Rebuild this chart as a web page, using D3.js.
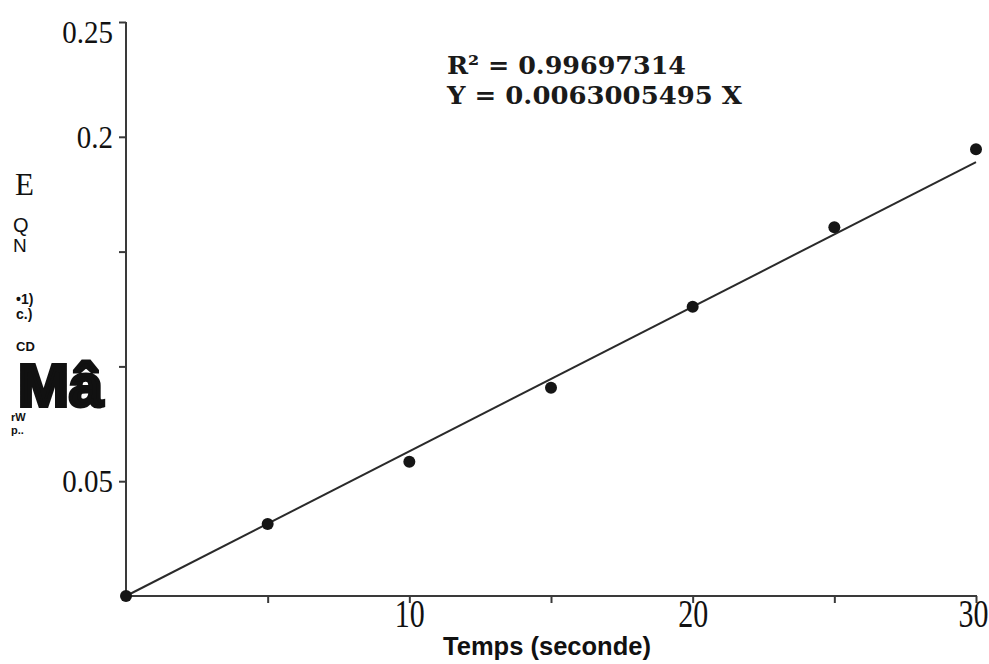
<!DOCTYPE html>
<html>
<head>
<meta charset="utf-8">
<script src="https://cdn.jsdelivr.net/npm/d3@7/dist/d3.min.js"></script>
<style>
html,body{margin:0;padding:0;background:#fff;}
svg{display:block;}
</style>
</head>
<body>
<svg id="chart" width="989" height="664"></svg>
<script>
// Data
const times = [0, 5, 10, 15, 20, 25, 30];
const absorbance = [0, 0.0314, 0.0585, 0.0907, 0.126, 0.1606, 0.1946];
const slope = 0.0063005495;
const r2Text = "R² = 0.99697314";
const eqText = "Y = 0.0063005495 X";
const xTicks = [5, 10, 15, 20, 25, 30];
const xTickLabels = {10: "10", 20: "20", 30: "30"};
const yTicks = [0.05, 0.1, 0.15, 0.2, 0.25];
const yTickLabels = {0.05: "0.05", 0.2: "0.2", 0.25: "0.25"};
const xTitle = "Temps (seconde)";
const yLabelFragments = ["E", "Q", "N", "•1)", "c.)", "CD", "Mâ", "rW", "p.."];

const svg = d3.select("#chart");
const x = d3.scaleLinear().domain([0, 30]).range([126, 976]);
const y = d3.scaleLinear().domain([0, 0.25]).range([596, 22]);
const ink = "#3a3a3a";
const serif = "'Liberation Serif', 'Times New Roman', serif";
const sans = "'Liberation Sans', Arial, sans-serif";

// Y axis
const yAxis = svg.append("g")
  .attr("transform", `translate(${x(0)},0)`)
  .call(d3.axisLeft(y).tickValues(yTicks).tickSize(7).tickSizeOuter(0)
    .tickFormat(d => yTickLabels[d] || ""));
yAxis.select(".domain").attr("stroke", ink).attr("stroke-width", 2)
  .attr("d", `M0,${y(0.25)}V${y(0) + 1}`);
yAxis.selectAll(".tick line").attr("stroke", ink).attr("stroke-width", 2);
yAxis.selectAll(".tick text")
  .attr("font-family", serif)
  .attr("font-size", 29).attr("fill", "#111").attr("x", -13)
  .attr("dy", d => d === 0.25 ? "0.62em" : "0.33em")
  .attr("transform", "scale(1,1.12)");

// X axis
const xAxis = svg.append("g")
  .attr("transform", `translate(0,${y(0)})`)
  .call(d3.axisBottom(x).tickValues(xTicks).tickSize(7).tickSizeOuter(0)
    .tickFormat(d => xTickLabels[d] || ""));
xAxis.select(".domain").attr("stroke", ink).attr("stroke-width", 2)
  .attr("d", `M${x(0)},0H${x(30) + 1}`);
xAxis.selectAll(".tick line").attr("stroke", ink).attr("stroke-width", 2);
xAxis.selectAll(".tick text")
  .attr("font-family", serif)
  .attr("font-size", 30).attr("fill", "#111")
  .attr("y", 0).attr("dy", 0)
  .attr("x", d => d === 30 ? -3 : 0)
  .attr("transform", "translate(0,31) scale(1,1.32)");

// X title
svg.append("text")
  .attr("x", 547).attr("y", 655)
  .attr("text-anchor", "middle")
  .attr("font-family", sans)
  .attr("font-weight", "bold").attr("font-size", 25.5).attr("fill", "#111")
  .text(xTitle);

// Regression line
const fitLine = d3.line().x(d => x(d)).y(d => y(slope * d));
svg.append("path")
  .datum([0, 30])
  .attr("d", fitLine)
  .attr("fill", "none").attr("stroke", "#2a2a2a").attr("stroke-width", 2);

// Points
svg.selectAll("circle.pt")
  .data(times.map((t, i) => [t, absorbance[i]]))
  .enter().append("circle")
  .attr("class", "pt")
  .attr("cx", d => x(d[0])).attr("cy", d => y(d[1]))
  .attr("r", 6).attr("fill", "#151515");

// Equation text
svg.append("text")
  .attr("x", 447).attr("y", 74)
  .attr("font-family", "'DejaVu Serif', serif").attr("font-weight", "bold")
  .attr("font-size", 25).attr("fill", "#1a1a1a")
  .attr("textLength", 239).attr("lengthAdjust", "spacingAndGlyphs")
  .text(r2Text);
svg.append("text")
  .attr("x", 447).attr("y", 104)
  .attr("font-family", "'DejaVu Serif', serif").attr("font-weight", "bold")
  .attr("font-size", 25).attr("fill", "#1a1a1a")
  .attr("textLength", 295).attr("lengthAdjust", "spacingAndGlyphs")
  .text(eqText);

// Y-axis label fragments (as scanned)
const fr = svg.append("g").attr("fill", "#111");
fr.append("text").attr("x", 15).attr("y", 195)
  .attr("font-family", serif).attr("font-size", 31)
  .text(yLabelFragments[0]);
fr.append("text").attr("x", 13).attr("y", 232)
  .attr("font-family", sans).attr("font-size", 20)
  .text(yLabelFragments[1]);
fr.append("text").attr("x", 13).attr("y", 252)
  .attr("font-family", sans).attr("font-size", 19)
  .text(yLabelFragments[2]);
fr.append("text").attr("x", 16).attr("y", 304)
  .attr("font-family", sans).attr("font-weight", "bold").attr("font-size", 14)
  .text(yLabelFragments[3]);
fr.append("text").attr("x", 16).attr("y", 319)
  .attr("font-family", sans).attr("font-weight", "bold").attr("font-size", 14)
  .text(yLabelFragments[4]);
fr.append("text").attr("x", 16).attr("y", 351)
  .attr("font-family", sans).attr("font-weight", "bold").attr("font-size", 13)
  .text(yLabelFragments[5]);
fr.append("text").attr("x", 18).attr("y", 406)
  .attr("font-family", sans).attr("font-weight", "bold").attr("font-size", 60)
  .attr("stroke", "#111").attr("stroke-width", 4).attr("stroke-linejoin", "miter")
  .attr("textLength", 85).attr("lengthAdjust", "spacingAndGlyphs")
  .text(yLabelFragments[6]);
fr.append("text").attr("x", 11).attr("y", 421)
  .attr("font-family", sans).attr("font-weight", "bold").attr("font-size", 11)
  .text(yLabelFragments[7]);
fr.append("text").attr("x", 11).attr("y", 434)
  .attr("font-family", sans).attr("font-weight", "bold").attr("font-size", 11)
  .text(yLabelFragments[8]);
</script>
</body>
</html>
